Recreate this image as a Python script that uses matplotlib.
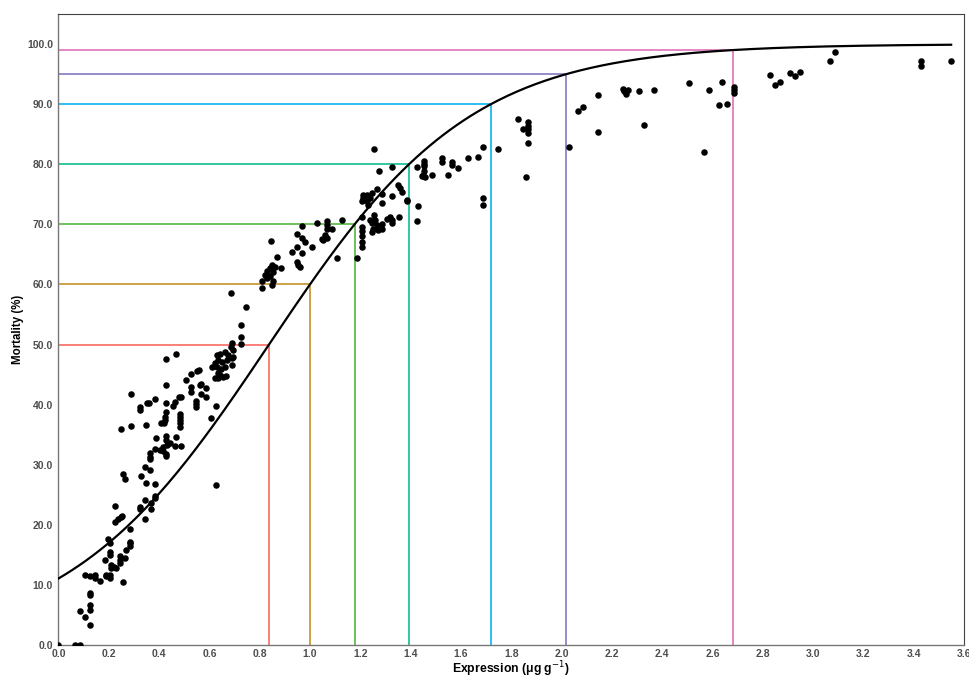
import numpy as np
import matplotlib
matplotlib.use('Agg')
import matplotlib.pyplot as plt

plt.rcParams['font.family'] = ['Liberation Sans', 'DejaVu Sans']

# observed points: expression (ug/g) and mortality (%)
expression = [
    0.00, 0.065, 0.085, 0.084, 0.104, 0.125, 0.125, 0.125, 0.124, 0.124,
    0.104, 0.126, 0.144, 0.144, 0.166, 0.188, 0.188, 0.204, 0.204,
    0.208, 0.210, 0.221, 0.230, 0.186, 0.204, 0.204, 0.197, 0.204,
    0.246, 0.243, 0.243, 0.256, 0.263, 0.267, 0.286, 0.286, 0.286, 0.286,
    0.223, 0.237, 0.250, 0.254, 0.226, 0.323, 0.323, 0.345, 0.345, 0.349,
    0.367, 0.369, 0.385, 0.385, 0.255, 0.264, 0.344, 0.364, 0.327, 0.384,
    0.364, 0.364, 0.364, 0.384, 0.404, 0.417, 0.426, 0.426,
    0.386, 0.426, 0.426, 0.467, 0.443, 0.430, 0.417, 0.463, 0.486,
    0.347, 0.287, 0.247, 0.423, 0.423, 0.408, 0.421,
    0.483, 0.483, 0.483, 0.483, 0.483, 0.426, 0.426, 0.454, 0.463, 0.480, 0.486,
    0.385, 0.361, 0.351, 0.325, 0.325, 0.287, 0.426, 0.426, 0.467,
    0.546, 0.546, 0.546, 0.565, 0.585, 0.585, 0.526, 0.526, 0.565, 0.563,
    0.559, 0.549, 0.526, 0.507, 0.625, 0.605, 0.626,
    0.629, 0.642, 0.662, 0.675, 0.695, 0.635, 0.622, 0.649, 0.669, 0.689, 0.609,
    0.629, 0.645, 0.662, 0.689, 0.635, 0.622, 0.635, 0.655, 0.642, 0.665, 0.695,
    0.689, 0.724, 0.726, 0.686, 0.726, 0.746, 0.686,
    0.848, 0.841, 0.861, 0.828, 0.852, 0.883, 0.821, 0.841, 0.828, 0.808,
    0.854, 0.808, 0.848, 0.845, 0.868, 0.927, 0.947, 0.954, 0.960,
    0.967, 0.947, 0.967, 0.980, 1.007, 0.947, 0.967,
    1.027, 1.060, 1.066, 1.053, 1.046, 1.066, 1.066, 1.086, 1.066,
    1.126, 1.106, 1.186, 1.207, 1.208, 1.208, 1.208, 1.208, 1.208,
    1.254, 1.239, 1.258, 1.245, 1.265, 1.285, 1.252, 1.272, 1.245, 1.285,
    1.305, 1.318, 1.327, 1.327, 1.355, 1.424,
    1.265, 1.285, 1.245, 1.225, 1.212, 1.206, 1.225, 1.239, 1.212, 1.232,
    1.327, 1.287, 1.349, 1.358, 1.367, 1.384, 1.384, 1.431,
    1.256, 1.276, 1.327, 1.424,
    1.455, 1.455, 1.455, 1.455, 1.450, 1.457, 1.444, 1.486, 1.526, 1.526,
    1.566, 1.566, 1.587, 1.548, 1.627, 1.667, 1.687, 1.687, 1.687, 1.746,
    1.826, 1.848, 1.868, 1.868, 1.868, 1.868, 1.868, 1.858,
    2.030, 2.067, 2.087, 2.146, 2.146,
    2.246, 2.249, 2.255, 2.266, 2.308, 2.327, 2.367, 2.507, 2.568, 2.588,
    2.626, 2.637, 2.657, 2.687, 2.687, 2.687,
    2.828, 2.848, 2.869, 2.909, 2.928, 2.948, 3.068, 3.089, 3.429, 3.429, 3.549,
]
mortality = [
    0.0, 0.0, 0.0, 5.7, 4.7, 3.4, 5.9, 6.7, 8.7, 8.3,
    11.6, 11.4, 11.2, 11.6, 10.7, 11.4, 11.6, 11.1, 11.6,
    12.8, 13.3, 13.0, 12.8, 14.1, 15.0, 15.4, 17.6, 16.9,
    13.6, 14.1, 14.8, 10.4, 14.4, 15.8, 16.4, 16.9, 17.2, 19.3,
    20.5, 21.0, 21.3, 21.5, 23.2, 22.6, 23.0, 20.9, 24.1, 27.0,
    22.7, 23.7, 24.4, 24.8, 28.5, 27.7, 29.6, 29.1, 28.2, 26.8,
    31.9, 31.3, 30.9, 32.6, 32.4, 32.2, 31.8, 31.4,
    34.4, 34.7, 34.1, 34.6, 33.6, 33.3, 33.0, 33.1, 33.1,
    36.6, 36.4, 36.0, 38.0, 37.4, 37.0, 36.9,
    38.5, 38.0, 37.5, 37.0, 36.3, 40.2, 38.8, 39.8, 40.5, 41.3, 41.3,
    41.0, 40.3, 40.2, 39.6, 39.1, 41.7, 43.3, 47.6, 48.5,
    40.6, 40.1, 39.6, 41.8, 42.7, 41.3, 42.9, 42.1, 43.5, 43.3,
    45.8, 45.6, 45.1, 44.1, 39.8, 37.7, 26.7,
    48.3, 48.5, 48.8, 48.3, 49.1, 47.4, 46.9, 47.1, 47.4, 47.7, 46.2,
    46.2, 46.0, 46.3, 46.6, 45.2, 44.4, 44.4, 44.6, 44.9, 44.8, 47.9,
    50.2, 50.1, 51.3, 49.6, 53.2, 56.3, 58.6,
    63.2, 62.7, 62.9, 62.3, 62.1, 62.8, 61.6, 61.4, 61.0, 60.6,
    60.5, 59.4, 59.9, 67.3, 64.5, 65.4, 63.8, 63.2, 62.9,
    69.7, 68.4, 67.8, 67.1, 66.2, 66.3, 65.3,
    70.2, 68.2, 67.8, 67.4, 67.5, 70.6, 69.9, 69.2, 69.2,
    70.7, 64.4, 64.4, 71.3, 69.5, 68.9, 68.1, 67.1, 66.2,
    71.5, 70.7, 70.7, 70.2, 69.9, 70.0, 69.3, 69.0, 68.8, 69.2,
    70.9, 71.2, 70.7, 70.3, 71.2, 70.5,
    75.8, 75.0, 75.2, 74.9, 74.3, 73.9, 73.8, 74.3, 74.9, 73.2,
    74.7, 73.5, 76.5, 76.0, 75.4, 73.8, 74.0, 73.0,
    82.6, 78.8, 79.6, 79.5,
    80.6, 80.1, 79.7, 78.8, 78.2, 77.8, 78.0, 78.2, 81.0, 80.3,
    80.4, 79.9, 79.3, 78.2, 81.0, 81.2, 82.8, 74.3, 73.2, 82.6,
    87.6, 85.8, 87.0, 86.4, 85.8, 85.2, 83.6, 77.9,
    82.8, 88.9, 89.5, 91.5, 85.4,
    92.6, 92.2, 91.7, 92.3, 92.2, 86.5, 92.4, 93.5, 82.0, 92.3,
    89.8, 93.7, 90.1, 92.9, 92.3, 91.9,
    94.9, 93.2, 93.7, 95.1, 94.7, 95.4, 97.2, 98.7, 97.1, 96.3, 97.1,
]

# fitted logistic dose-response curve
ec50 = 0.837
slope = 2.49

# mortality levels marked with guide lines
levels = [50, 60, 70, 80, 90, 95, 99]
level_colors = ['#F8766D', '#C99A3A', '#62BC4E', '#22C29A', '#1DB7EE', '#8D82C6', '#E07DBD']

x = np.array(expression)
y = np.array(mortality)

xs = np.linspace(0, x.max(), 400)
ys = 100.0 / (1.0 + np.exp(-slope * (xs - ec50)))

fig = plt.figure(figsize=(9.7, 6.79), dpi=100)
ax = fig.add_axes([0.0603, 0.0501, 0.9335, 0.9293])

# guide lines: horizontal from the axis to the curve, then down to the x axis
for lev, col in zip(levels, level_colors):
    xl = ec50 - np.log(100.0 / lev - 1.0) / slope
    ax.plot([0, xl], [lev, lev], color=col, lw=1.3, zorder=2)
    ax.plot([xl, xl], [0, lev], color=col, lw=1.3, zorder=2)

ax.plot(xs, ys, color='black', lw=1.6, zorder=3)
ax.scatter(x, y, s=22, color='black', linewidths=0, zorder=4)

ax.set_xlim(0, 3.6)
ax.set_ylim(0, 105)
ax.set_xticks(np.arange(0, 3.61, 0.2))
ax.set_yticks(np.arange(0, 101, 10))
ax.xaxis.set_major_formatter(plt.FormatStrFormatter('%.1f'))
ax.yaxis.set_major_formatter(plt.FormatStrFormatter('%.1f'))
ax.tick_params(length=0, pad=4, labelsize=7.5, labelcolor='#4D4D4D')
ax.tick_params(axis='x', pad=3)
for lab in ax.get_xticklabels() + ax.get_yticklabels():
    lab.set_fontweight('bold')

for side in ['top', 'right']:
    ax.spines[side].set_color('#444444')
    ax.spines[side].set_linewidth(0.8)
for side in ['left', 'bottom']:
    ax.spines[side].set_color('#777777')
    ax.spines[side].set_linewidth(1.0)

ax.set_xlabel('Expression (μg g$^{-1}$)', fontsize=8.8, fontweight='bold', labelpad=0)
ax.set_ylabel('Mortality (%)', fontsize=8.3, fontweight='bold', labelpad=2)

fig.savefig('out.png', dpi=100)
